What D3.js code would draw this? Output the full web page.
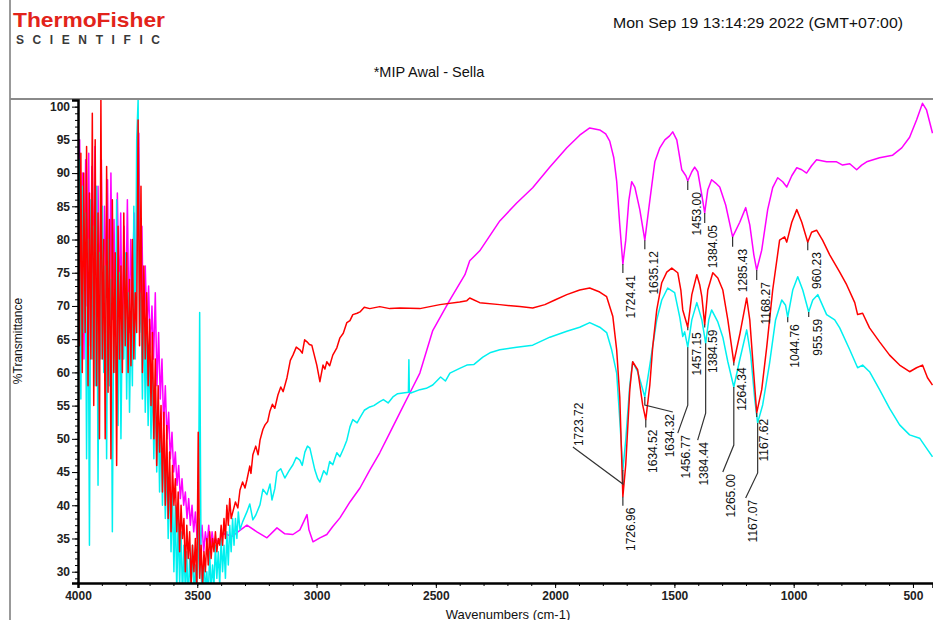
<!DOCTYPE html>
<html>
<head>
<meta charset="utf-8">
<script src="https://cdnjs.cloudflare.com/ajax/libs/d3/7.8.5/d3.min.js"></script>
<style>
  body{margin:0;background:#fff;}
  svg text{font-family:"Liberation Sans", Arial, sans-serif;}
</style>
</head>
<body>
<div id="chart"></div>
<script>
// [wavenumber cm-1, %T]
const spectrumMagenta = [
  [4000,93],[3993,95],[3987,72],[3981,90],[3975,62],[3968,92],[3962,70],[3955,93],[3949,64],[3942,91],
  [3936,75],[3929,94],[3922,63],[3916,88],[3909,70],[3902,92],[3896,66],[3889,85],[3882,74],[3876,89],
  [3869,64],[3862,90],[3855,68],[3849,83],[3842,65],[3835,87],[3828,70],[3821,84],[3814,63],[3807,82],
  [3800,68],[3793,86],[3786,66],[3779,80],[3772,70],[3765,84],[3758,67],[3751,93],[3745,96],[3739,72],
  [3732,82],[3725,64],[3718,76],[3711,66],[3704,73],[3697,63],[3690,70],[3683,62],[3676,72],[3669,58],
  [3662,66],[3655,56],[3648,62],[3641,52],[3634,58],[3627,50],[3620,54],[3613,47],[3606,51],[3599,45],
  [3592,48],[3585,43],[3578,46],[3571,41],[3564,44],[3557,40],[3550,42],[3543,38],[3536,41],[3529,37],
  [3522,40],[3515,36],[3508,39],[3501,35],[3494,38],[3487,34],[3480,37],[3473,33],[3466,36],[3459,34],
  [3452,37],[3445,33],[3438,36],[3431,34],[3424,35],[3413,34.4],[3390,35.8],[3355,35.3],[3292,37.0],
  [3250,36.0],[3208,35.1],[3166,36.6],[3133,35.7],[3099,35.6],[3070,36.3],[3040,38.6],[3032,36.3],
  [3015,34.5],[2986,35.1],[2957,35.6],[2932,36.8],[2902,38.1],[2860,40.5],[2818,42.6],[2777,45.3],
  [2735,47.9],[2693,50.9],[2651,53.9],[2609,56.9],[2567,59.9],[2513,66.3],[2441,70.9],[2378,74.7],
  [2358,76.8],[2316,78.3],[2232,82.8],[2161,85.5],[2094,87.8],[2022,90.9],[1951,93.8],[1897,95.7],
  [1855,96.8],[1813,96.5],[1788,95.9],[1771,94.8],[1754,92.3],[1742,88.8],[1729,82.2],[1716,76.3],
  [1704,79.9],[1691,85.9],[1679,88.7],[1666,87.9],[1645,84.5],[1624,79.9],[1603,85.9],[1582,91.7],
  [1561,93.8],[1540,95.0],[1520,95.6],[1507,96.2],[1490,95.0],[1469,90.5],[1452,89.6],[1444,88.8],
  [1427,90.2],[1415,90.9],[1402,90.2],[1385,86.7],[1373,84.0],[1360,87.5],[1344,89.0],[1327,88.5],
  [1310,87.9],[1285,85.2],[1256,80.4],[1226,82.6],[1201,84.8],[1184,82.2],[1167,77.7],[1155,75.4],
  [1134,78.4],[1109,84.5],[1088,87.8],[1067,89.3],[1046,88.7],[1029,87.9],[1008,89.6],[987,90.8],
  [966,90.5],[946,90.0],[925,91.1],[904,92.0],[862,91.7],[820,91.7],[795,91.2],[765,91.4],[736,90.5],
  [715,91.2],[694,91.7],[640,92.3],[585,92.7],[547,93.8],[514,95.4],[485,98.0],[460,100.5],[443,99.5],
  [418,96.0]
]

const spectrumRed = [
  [4000,88],[3994,64],[3988,93],[3982,60],[3976,90],[3970,66],[3964,94],[3958,58],[3952,87],[3946,62],
  [3940,99],[3934,55],[3928,95],[3922,58],[3916,84],[3910,50],[3904,101],[3898,62],[3892,80],[3886,50],
  [3880,91],[3874,57],[3868,83],[3862,47],[3856,86],[3850,60],[3844,78],[3838,46],[3832,82],[3826,62],
  [3820,76],[3814,60],[3808,84],[3802,64],[3796,78],[3790,60],[3784,74],[3778,61],[3772,80],[3766,62],
  [3760,72],[3754,66],[3748,98],[3742,64],[3736,88],[3730,60],[3724,76],[3718,62],[3712,72],[3706,58],
  [3700,68],[3694,55],[3688,66],[3682,50],[3676,62],[3670,46],[3664,58],[3658,48],[3652,55],[3646,42],
  [3640,54],[3634,40],[3628,52],[3622,38],[3616,48],[3610,36],[3604,46],[3598,40],[3592,44],[3586,36],
  [3580,42],[3574,33],[3568,40],[3562,35],[3556,38],[3550,30],[3544,37],[3538,32],[3532,36],[3526,28],
  [3520,34],[3514,30],[3508,35],[3502,27],[3496,51],[3490,29],[3484,34],[3478,28],[3472,33],[3466,30],
  [3460,35],[3454,31],[3448,36],[3442,32],[3436,35],[3430,33],[3424,36],[3418,33],[3412,35],[3406,34],
  [3400,37],[3394,34],[3388,38],[3382,35],[3376,40],[3370,37],[3364,41],[3358,38],[3351,39.0],
  [3340,40.5],[3330,39.6],[3321,42.3],[3310,43.5],[3300,42.6],[3292,43.8],[3280,45.9],[3275,44.8],
  [3267,47.6],[3255,48.9],[3245,47.6],[3237,49.8],[3225,51.4],[3216,52.1],[3205,52.6],[3196,54.1],
  [3185,55.2],[3175,54.6],[3162,56.6],[3150,57.8],[3140,57.1],[3124,59.2],[3110,61.8],[3099,62.6],
  [3085,63.8],[3070,63.4],[3060,62.9],[3050,64.9],[3040,64.6],[3030,64.2],[3020,64.1],[2999,61.1],
  [2986,58.6],[2973,61.1],[2965,60.5],[2957,61.6],[2945,61.0],[2932,62.6],[2915,63.7],[2902,65.2],
  [2888,65.9],[2873,67.5],[2860,67.8],[2848,68.7],[2830,68.9],[2818,69.1],[2800,69.8],[2777,69.6],
  [2735,69.9],[2693,69.6],[2651,69.7],[2567,69.6],[2483,70.2],[2400,70.6],[2370,70.8],[2358,71.2],
  [2316,70.5],[2232,70.2],[2148,69.9],[2094,69.7],[2043,70.2],[2001,70.9],[1951,71.7],[1897,72.4],
  [1855,72.7],[1813,72.1],[1784,71.4],[1758,68.4],[1742,63.4],[1729,56.3],[1716,41.3],[1704,46.1],
  [1687,57.4],[1675,61.6],[1654,60.4],[1633,55.1],[1620,52.9],[1603,58.1],[1591,63.8],[1574,69.4],
  [1553,73.5],[1532,75.1],[1511,75.7],[1486,75.0],[1473,72.4],[1465,69.4],[1444,66.8],[1427,71.7],
  [1406,74.7],[1394,73.2],[1385,71.4],[1373,67.2],[1360,72.4],[1339,75.0],[1318,74.2],[1297,72.4],
  [1276,67.9],[1251,61.5],[1226,65.7],[1197,71.2],[1184,67.9],[1167,59.6],[1155,53.9],[1134,57.4],
  [1113,63.8],[1088,72.4],[1059,79.9],[1038,80.4],[1029,79.6],[1008,82.6],[987,84.5],[966,82.6],
  [941,79.6],[925,81.1],[904,81.4],[879,79.9],[849,77.7],[807,75.1],[778,73.2],[744,70.5],[732,68.7],
  [711,68.9],[682,66.7],[640,64.6],[598,62.6],[556,61.1],[514,60.1],[485,60.7],[460,61.1],[439,59.2],
  [418,58.1]
]

const spectrumCyan = [
  [4000,62],[3994,92],[3988,56],[3982,88],[3976,66],[3970,84],[3964,47],[3958,80],[3952,34],[3946,86],
  [3940,62],[3934,82],[3928,58],[3922,88],[3916,43],[3910,78],[3904,62],[3898,85],[3892,60],[3886,76],
  [3880,47],[3874,80],[3868,58],[3862,74],[3856,36],[3850,72],[3844,60],[3838,86],[3832,52],[3826,75],
  [3820,50],[3814,70],[3808,62],[3802,78],[3796,56],[3790,72],[3784,54],[3778,68],[3772,58],[3766,85],
  [3760,62],[3754,95],[3748,101],[3742,66],[3736,72],[3730,56],[3724,70],[3718,54],[3712,66],[3706,52],
  [3700,64],[3694,50],[3688,60],[3682,47],[3676,58],[3670,45],[3664,55],[3658,42],[3652,52],[3646,40],
  [3640,50],[3634,38],[3628,47],[3622,35],[3616,45],[3610,33],[3604,42],[3598,30],[3592,40],[3586,27],
  [3580,38],[3574,28],[3568,36],[3562,26],[3556,34],[3550,27],[3544,33],[3538,25],[3532,32],[3526,28],
  [3520,34],[3514,26],[3508,31],[3502,27],[3496,32],[3490,69],[3484,30],[3478,26],[3472,32],[3466,27],
  [3460,30],[3454,26],[3448,33],[3442,27],[3436,31],[3430,28],[3424,34],[3418,29],[3412,33],[3406,28],
  [3400,35],[3394,30],[3388,34],[3382,29],[3376,36],[3370,31],[3364,37],[3358,33],[3352,38],[3346,34],
  [3340,38],[3334,35],[3328,39],[3321,36.3],[3310,37.5],[3292,39.0],[3280,40.2],[3267,37.8],
  [3255,38.5],[3237,40.1],[3225,42.4],[3208,41.6],[3195,43.2],[3187,40.8],[3175,42.5],[3166,45.0],
  [3150,45.5],[3133,44.1],[3115,45.2],[3099,46.1],[3085,47.2],[3070,46.8],[3060,46.0],[3049,48.0],
  [3038,48.9],[3028,48.6],[3007,45.3],[2995,44.0],[2986,43.5],[2970,45.2],[2957,44.6],[2945,46.6],
  [2932,46.1],[2915,47.9],[2902,47.3],[2885,48.7],[2873,49.8],[2860,51.8],[2848,52.9],[2830,52.4],
  [2818,53.2],[2800,54.3],[2777,54.8],[2760,55.0],[2735,55.6],[2720,55.9],[2700,55.4],[2680,56.3],
  [2660,56.8],[2638,56.9],[2615,57.0],[2613,61.9],[2611,57.0],[2605,56.9],[2567,57.4],[2540,57.6],
  [2513,58.1],[2480,59.3],[2460,58.7],[2441,59.9],[2400,60.6],[2370,61.1],[2340,61.2],[2303,62.3],
  [2270,63.0],[2232,63.4],[2161,63.8],[2094,64.1],[2022,65.3],[1951,66.2],[1897,66.8],[1855,67.5],
  [1813,66.8],[1784,66.0],[1763,63.4],[1742,59.9],[1729,52.9],[1716,45.3],[1704,49.8],[1687,58.1],
  [1675,61.6],[1654,60.1],[1624,56.3],[1603,61.1],[1574,67.9],[1553,70.9],[1528,72.7],[1499,72.0],
  [1477,68.2],[1465,65.4],[1457,66.1],[1444,63.8],[1427,67.9],[1406,70.5],[1385,67.9],[1369,64.4],
  [1356,67.9],[1344,69.4],[1318,67.6],[1297,65.3],[1276,61.6],[1251,57.8],[1226,61.9],[1197,66.4],
  [1180,62.6],[1163,55.9],[1151,52.4],[1130,55.1],[1101,61.4],[1076,67.9],[1050,70.9],[1034,70.1],
  [1025,68.3],[1004,72.4],[983,74.4],[962,72.4],[937,69.1],[920,70.9],[899,71.7],[862,68.7],[828,67.9],
  [807,66.7],[765,63.4],[732,60.7],[711,61.1],[682,60.1],[640,57.4],[598,54.6],[556,52.1],[514,50.6],
  [472,50.1],[447,48.8],[418,47.3]
]

// peak picks printed on the chart: label, wavenumber, %T of the marked point
const peakLabels = [
  {text:'1724.41', wn:1716, t:76.3}, {text:'1635.12', wn:1624, t:79.9},
  {text:'1453.00', wn:1444, t:88.8}, {text:'1384.05', wn:1373, t:84.0},
  {text:'1285.43', wn:1256, t:80.4}, {text:'1168.27', wn:1155, t:75.4},
  {text:'960.23', wn:941, t:79.6},
  {text:'1726.96', wn:1716, t:41.3}, {text:'1634.52', wn:1620, t:52.9},
  {text:'1457.15', wn:1444, t:66.8}, {text:'1384.59', wn:1373, t:67.2},
  {text:'1264.34', wn:1251, t:61.5}, {text:'1167.62', wn:1155, t:53.9},
  {text:'1723.72', wn:1716, t:45.3}, {text:'1634.32', wn:1624, t:56.3},
  {text:'1456.77', wn:1444, t:63.8}, {text:'1384.44', wn:1369, t:64.4},
  {text:'1265.00', wn:1251, t:57.8}, {text:'1167.07', wn:1151, t:52.4},
  {text:'1044.76', wn:1025, t:68.3}, {text:'955.59', wn:937, t:69.1}
]

const yTicks = [30,35,40,45,50,55,60,65,70,75,80,85,90,95,100]
const xTicks = [4000,3500,3000,2500,2000,1500,1000,500]

// leader geometry in px (drop down, then optional diagonal), text offset
const leaderLayout = {
  '1724.41':{drop:9,tx:8}, '1635.12':{drop:9,tx:9}, '1453.00':{drop:9,tx:9},
  '1384.05':{drop:10,tx:8}, '1285.43':{drop:10,tx:10}, '1168.27':{drop:10,tx:9},
  '960.23':{drop:8,tx:9}, '1726.96':{drop:9,tx:8}, '1634.52':{drop:8,tx:7},
  '1457.15':{drop:3,tx:9}, '1384.59':{drop:3,tx:8}, '1264.34':{drop:3,tx:8},
  '1167.62':{drop:4,tx:7},
  '1723.72':{drop:14,dx:-50,dy:-37,tx:6,above:true},
  '1634.32':{drop:8,dx:28,dy:7,tx:-3},
  '1456.77':{drop:58,dx:-10,dy:28,tx:8},
  '1384.44':{drop:70,dx:-8,dy:27,tx:6},
  '1265.00':{drop:58,dx:-11,dy:27,tx:8},
  '1167.07':{drop:50,dx:-12,dy:25,tx:7},
  '1044.76':{drop:5,tx:7}, '955.59':{drop:5,tx:9}
}

function draw(){
    const xAccessor = d => d[0]
    const yAccessor = d => d[1]

    let dimensions = {
        width:933,
        height:620,
        margin:{ top:100, bottom:37, left:78, right:0 }
    }
    dimensions.ctrWidth = dimensions.width - dimensions.margin.left - dimensions.margin.right
    dimensions.ctrHeight = dimensions.height - dimensions.margin.top - dimensions.margin.bottom

    // Scales
    const xScale = d3.scaleLinear()
        .domain([4000, 416])
        .range([0, dimensions.ctrWidth])
    const yScale = d3.scaleLinear()
        .domain([28.3, 101])
        .range([dimensions.ctrHeight, 0])

    const svg = d3.select('#chart')
        .append('svg')
        .attr('width', dimensions.width)
        .attr('height', dimensions.height)

    // page header
    svg.append('line')
        .attr('x1', 10).attr('x2', 10).attr('y1', 0).attr('y2', dimensions.height)
        .attr('stroke', '#555').attr('stroke-width', 1.2)
    svg.append('line')
        .attr('x1', 10).attr('x2', dimensions.width).attr('y1', 99).attr('y2', 99)
        .attr('stroke', '#8a8a8a').attr('stroke-width', 2)

    svg.append('text')
        .attr('x', 13).attr('y', 27)
        .attr('fill', '#e2231a')
        .style('font-size', '21px').style('font-weight', 'bold')
        .attr('textLength', 152).attr('lengthAdjust', 'spacingAndGlyphs')
        .text('ThermoFisher')
    svg.append('text')
        .attr('x', 16).attr('y', 44)
        .attr('fill', '#3a3a3a')
        .style('font-size', '12px').style('font-weight', 'bold')
        .attr('textLength', 144).attr('lengthAdjust', 'spacing')
        .text('SCIENTIFIC')

    svg.append('text')
        .attr('x', 613).attr('y', 28)
        .attr('fill', '#111')
        .style('font-size', '15px')
        .attr('textLength', 290).attr('lengthAdjust', 'spacingAndGlyphs')
        .text('Mon Sep 19 13:14:29 2022 (GMT+07:00)')
    svg.append('text')
        .attr('x', 429).attr('y', 77)
        .attr('text-anchor', 'middle')
        .attr('fill', '#111')
        .style('font-size', '14.5px')
        .text('*MIP Awal - Sella')

    const ctr = svg.append('g')
        .attr('transform', `translate(${dimensions.margin.left}, ${dimensions.margin.top})`)

    ctr.append('clipPath').attr('id', 'plot-clip')
        .append('rect')
        .attr('width', dimensions.ctrWidth)
        .attr('height', dimensions.ctrHeight)

    const lineGenerator = d3.line()
        .x(d => xScale(xAccessor(d)))
        .y(d => yScale(yAccessor(d)))

    const series = [
        {data: spectrumMagenta, color:'#ff00ff'},
        {data: spectrumCyan, color:'#00f0f0'},
        {data: spectrumRed, color:'#ff0000'}
    ]
    const lines = ctr.append('g').attr('clip-path', 'url(#plot-clip)')
    lines.selectAll('path')
        .data(series)
        .join('path')
        .attr('d', d => lineGenerator(d.data))
        .attr('fill', 'none')
        .attr('stroke', d => d.color)
        .attr('stroke-width', 1.5)
        .attr('stroke-linejoin', 'round')

    // peak labels
    const peaks = ctr.append('g')
    peakLabels.forEach(p => {
        const lay = leaderLayout[p.text]
        const x0 = xScale(p.wn), y0 = yScale(p.t)
        const y1 = y0 + lay.drop
        const x2 = x0 + (lay.dx || 0), y2 = y1 + (lay.dy || 0)
        peaks.append('polyline')
            .attr('points', `${x0},${y0} ${x0},${y1} ${x2},${y2}`)
            .attr('fill', 'none')
            .attr('stroke', '#333')
            .attr('stroke-width', 1.2)
        const ty = lay.above ? y2 - 1 : y2 + 2
        peaks.append('text')
            .attr('transform', `translate(${x2 + lay.tx}, ${ty}) rotate(-90)`)
            .attr('text-anchor', lay.above ? 'start' : 'end')
            .attr('dominant-baseline', 'central')
            .attr('fill', '#111')
            .style('font-size', '12px')
            .text(p.text)
    })

    // Axes
    const yMinor = d3.axisLeft(yScale)
        .tickValues(d3.range(29, 101, 1))
        .tickSize(3)
        .tickFormat('')
    ctr.append('g').call(yMinor)
        .call(g => g.select('.domain').remove())

    const yAxis = d3.axisLeft(yScale)
        .tickValues(yTicks)
        .tickSize(6)
        .tickPadding(2)
    const yAxisGroup = ctr.append('g').call(yAxis)
    yAxisGroup.select('.domain').attr('stroke-width', 2.5)
    yAxisGroup.selectAll('text')
        .style('font-size', '12px').style('font-weight', 'bold')
        .attr('fill', '#222')

    const xMinor = d3.axisBottom(xScale)
        .tickValues(d3.range(4000, 416, -100))
        .tickSize(3)
        .tickFormat('')
    ctr.append('g').call(xMinor)
        .style('transform', `translateY(${dimensions.ctrHeight}px)`)
        .call(g => g.select('.domain').remove())

    const xAxis = d3.axisBottom(xScale)
        .tickValues(xTicks)
        .tickSize(5)
        .tickPadding(3)
        .tickFormat(d3.format('d'))
    const xAxisGroup = ctr.append('g').call(xAxis)
        .style('transform', `translateY(${dimensions.ctrHeight}px)`)
    xAxisGroup.select('.domain').attr('stroke-width', 2.5)
    xAxisGroup.selectAll('text')
        .style('font-size', '12px').style('font-weight', 'bold')
        .attr('fill', '#222')

    xAxisGroup.append('text')
        .attr('x', 430)
        .attr('y', 36)
        .attr('fill', '#111')
        .attr('text-anchor', 'middle')
        .style('font-size', '13px')
        .text('Wavenumbers (cm-1)')

    svg.append('text')
        .attr('transform', 'translate(18, 341) rotate(-90)')
        .attr('text-anchor', 'middle')
        .attr('dominant-baseline', 'central')
        .attr('fill', '#111')
        .style('font-size', '12px')
        .text('%Transmittance')
}
draw()
</script>
</body>
</html>
